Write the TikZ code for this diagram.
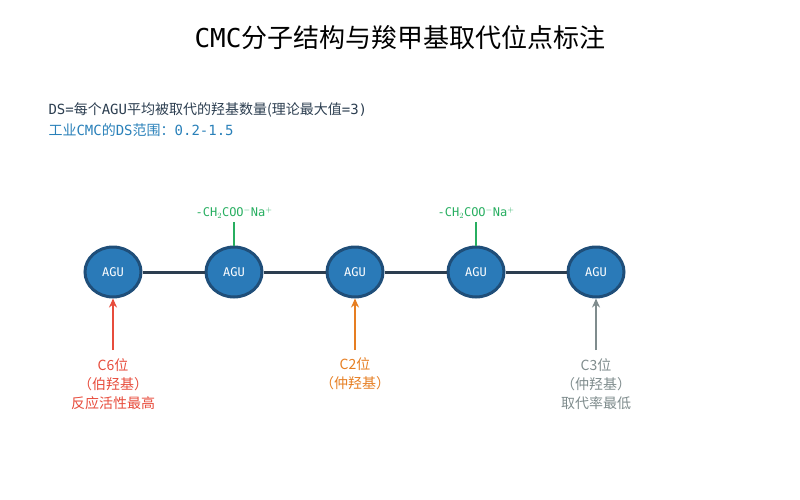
\documentclass[tikz,border=0pt]{standalone}
\usepackage{fontspec}
\setmainfont{DejaVu Sans Mono}
\newfontfamily\cjk{Noto Sans CJK SC}
\usetikzlibrary{arrows.meta,shapes.geometric}
\definecolor{chain}{HTML}{2C3E50}
\definecolor{aguFill}{HTML}{2A7AB8}
\definecolor{aguEdge}{HTML}{1F4E79}
\definecolor{subGreen}{HTML}{27AE60}
\definecolor{posRed}{HTML}{E74C3C}
\definecolor{posOrange}{HTML}{E67E22}
\definecolor{posGray}{HTML}{7F8C8D}
\definecolor{infoBlue}{HTML}{2980B9}
\begin{document}
\begin{tikzpicture}[x=1pt,y=-1pt]
        \tikzstyle{agu} = [shape = ellipse, minimum width = 56pt, minimum height = 50pt, inner sep = 0pt, fill = aguFill, draw = aguEdge, line width = 3pt, text = white, font = \fontsize{12}{14}\selectfont]
        \tikzstyle{subst} = [text = subGreen, font = \fontsize{12}{14}\selectfont]
        \tikzstyle{site} = [align = center, font = \fontsize{14}{19}\selectfont\cjk]
        \tikzstyle{uparrow} = [line width = 2.5pt, -{Stealth[length=9pt,width=8pt]}]
        \useasboundingbox (0,0) rectangle (800,500);
        \node (title) at (400, 38) {\fontsize{26}{30}\selectfont CMC{\cjk 分子结构与羧甲基取代位点标注}};
        \node[anchor = west, text = chain] (def) at (45, 110) {\fontsize{14}{16}\selectfont DS={\cjk 每个}AGU{\cjk 平均被取代的羟基数量(理论最大值}=3)};
        \node[anchor = west, text = infoBlue] (range) at (45, 130) {\fontsize{14}{16}\selectfont {\cjk 工业}CMC{\cjk 的}DS{\cjk 范围：}0.2-1.5};
        \node[agu] (A-1) at (113, 272) {AGU};
        \node[agu] (A-2) at (234, 272) {AGU};
        \node[agu] (A-3) at (355, 272) {AGU};
        \node[agu] (A-4) at (476, 272) {AGU};
        \node[agu] (A-5) at (596, 272) {AGU};
        \foreach \i [count=\j from 2] in {1,...,4}
          \draw[chain, line width = 3pt] (A-\i) -- (A-\j);
        \node[subst] (S-2) at (234, 213) {-CH$_2$COO$^-$Na$^+$};
        \node[subst] (S-4) at (476, 213) {-CH$_2$COO$^-$Na$^+$};
        \draw[subGreen, line width = 2.5pt] (S-2) -- (A-2);
        \draw[subGreen, line width = 2.5pt] (S-4) -- (A-4);
        \node[site, text = posRed] (P-6) at (113, 384) {C6位\\（伯羟基）\\反应活性最高};
        \node[site, text = posOrange] (P-2) at (355, 374) {C2位\\（仲羟基）};
        \node[site, text = posGray] (P-3) at (596, 384) {C3位\\（仲羟基）\\取代率最低};
        \coordinate (T-6) at (113, 350);
        \coordinate (T-2) at (355, 350);
        \coordinate (T-3) at (596, 350);
        \draw[uparrow, posRed] (T-6) -- (A-1);
        \draw[uparrow, posOrange] (T-2) -- (A-3);
        \draw[uparrow, posGray] (T-3) -- (A-5);
      \end{tikzpicture}
\end{document}
